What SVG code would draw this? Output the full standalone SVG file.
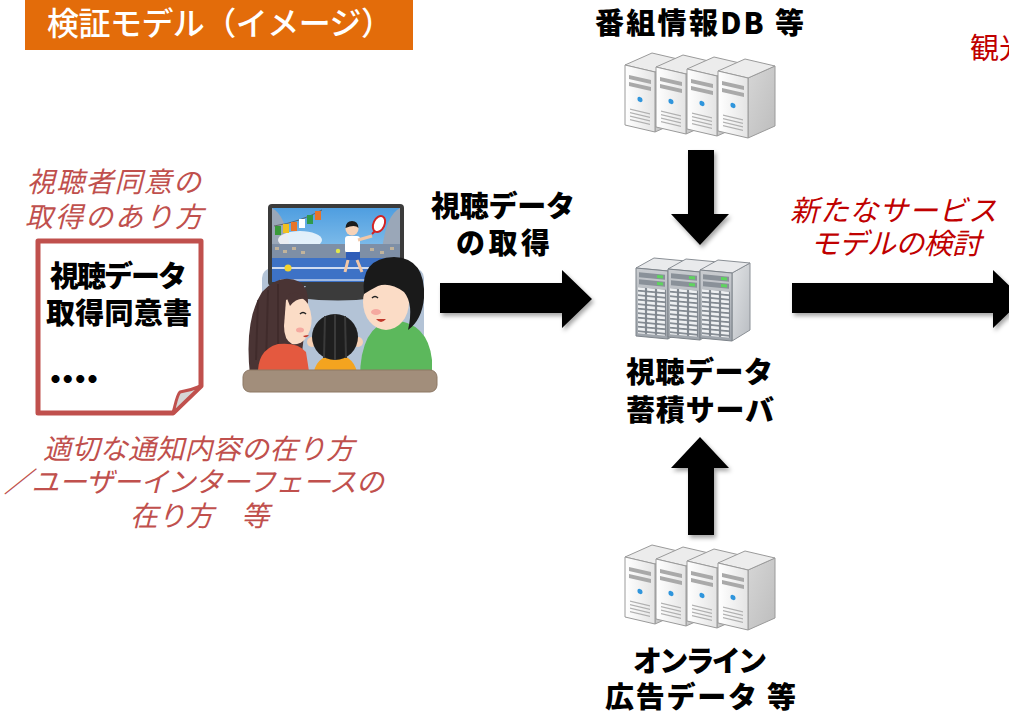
<svg xmlns="http://www.w3.org/2000/svg" width="1009" height="712" viewBox="0 0 1009 712">
  <style>
    .jp { font-family: "Noto Sans CJK JP", "Noto Sans", sans-serif; }
    .lbl { font-family: "Noto Sans CJK JP", sans-serif; font-weight: 900; font-size: 29px; fill: #000; }
    .note { font-family: "Noto Sans CJK JP", sans-serif; font-style: italic; font-weight: 400; font-size: 28px; fill: #C0504D; }
    .idea { font-family: "Noto Sans CJK JP", sans-serif; font-style: italic; font-weight: 400; font-size: 29px; fill: #C00000; }
    .arrow { fill: #000; filter: url(#shadow); }
  </style>
  <defs>
    <filter id="shadow" x="-20%" y="-20%" width="150%" height="150%">
      <feDropShadow dx="2" dy="3" stdDeviation="2" flood-color="#000" flood-opacity="0.35"/>
    </filter>
    <linearGradient id="towerFront" x1="0" y1="0" x2="1" y2="0">
      <stop offset="0" stop-color="#ffffff"/>
      <stop offset="1" stop-color="#e4e4e4"/>
    </linearGradient>
    <linearGradient id="towerSide" x1="0" y1="0" x2="1" y2="1">
      <stop offset="0" stop-color="#d6d6d6"/>
      <stop offset="1" stop-color="#bdbdbd"/>
    </linearGradient>
    <linearGradient id="rackFront" x1="0" y1="0" x2="0" y2="1">
      <stop offset="0" stop-color="#c9ccd0"/>
      <stop offset="1" stop-color="#9da3aa"/>
    </linearGradient>
    <linearGradient id="rackSide" x1="0" y1="0" x2="1" y2="1">
      <stop offset="0" stop-color="#e2e4e6"/>
      <stop offset="1" stop-color="#b9bdc2"/>
    </linearGradient>
    <linearGradient id="sky" x1="0" y1="0" x2="0" y2="1">
      <stop offset="0" stop-color="#4f9ee0"/>
      <stop offset="1" stop-color="#a8d6f2"/>
    </linearGradient>
    <pattern id="cells" width="10" height="4.5" patternUnits="userSpaceOnUse">
      <rect width="10" height="4.5" fill="#7f868e"/>
      <rect x="1" y="0.8" width="8" height="2.8" fill="#eef0f2"/>
    </pattern>

    <!-- one tower server, origin at front-top-left corner -->
    <g id="tower">
      <polygon points="30,7 57,-5 57,55 30,67" fill="url(#towerSide)" stroke="#9a9a9a" stroke-width="1" stroke-linejoin="round"/>
      <polygon points="0,0 27,-12 57,-5 30,7" fill="#ececec" stroke="#9a9a9a" stroke-width="1" stroke-linejoin="round"/>
      <polygon points="0,0 30,7 30,67 0,60" fill="url(#towerFront)" stroke="#9a9a9a" stroke-width="1" stroke-linejoin="round"/>
      <g transform="skewY(13.1)">
        <rect x="4" y="9" width="22" height="4" fill="#a9a9a9"/>
        <rect x="4" y="16" width="22" height="4" fill="#a9a9a9"/>
        <circle cx="15" cy="31" r="2.6" fill="#2f95dc"/>
        <g stroke="#b0b0b0" stroke-width="1.2">
          <line x1="5" y1="43" x2="25" y2="43"/>
          <line x1="5" y1="46.5" x2="25" y2="46.5"/>
          <line x1="5" y1="50" x2="25" y2="50"/>
          <line x1="5" y1="53.5" x2="25" y2="53.5"/>
        </g>
      </g>
    </g>

    <!-- one rack server, origin at front-top-left corner -->
    <g id="rack">
      <polygon points="32,3 50,-7 50,60 32,71" fill="url(#rackSide)" stroke="#8a8f95" stroke-width="1"/>
      <polygon points="0,0 18,-10 50,-7 32,3" fill="#e9eaec" stroke="#8a8f95" stroke-width="1"/>
      <polygon points="0,0 32,3 32,71 0,68" fill="url(#rackFront)" stroke="#7d838a" stroke-width="1"/>
      <g transform="skewY(5.4)">
        <rect x="3" y="4" width="26" height="5" fill="#8a9199"/>
        <rect x="3" y="11" width="26" height="5" fill="#8a9199"/>
        <rect x="21" y="5" width="6" height="3" fill="#5fd35f"/>
        <rect x="21" y="12" width="6" height="3" fill="#5fd35f"/>
        <rect x="2" y="19" width="28" height="46" fill="url(#cells)"/>
      </g>
    </g>
  </defs>

  <rect width="1009" height="712" fill="#ffffff"/>

  <!-- heading -->
  <g id="title">
    <rect x="25" y="0" width="388" height="50" fill="#E36C0A"/>
    <text class="jp" x="47" y="35" font-size="32" font-weight="500" fill="#ffffff" textLength="346">検証モデル（イメージ）</text>
  </g>

  <g id="tourism-label">
    <text class="jp" x="970" y="59" font-size="29" fill="#C00000">観光</text>
  </g>

  <!-- consent notes and document -->
  <g id="consent-note">
    <text class="note" x="27" y="192" textLength="174">視聴者同意の</text>
    <text class="note" x="25" y="227" textLength="178">取得のあり方</text>
  </g>

  <g id="consent-document">
    <path d="M38,241 H201 V386 L173,413 H38 Z" fill="#ffffff" stroke="#C0504D" stroke-width="5" stroke-linejoin="round"/>
    <path d="M173,413 C176,402 177,395 180,392 C186,391 194,389 201,386 Z" fill="#d6d6d6" stroke="#C0504D" stroke-width="3" stroke-linejoin="round"/>
    <text class="lbl" x="50" y="287" font-size="28" textLength="137">視聴データ</text>
    <text class="lbl" x="46" y="324" textLength="146">取得同意書</text>
    <text class="lbl" x="41" y="390" font-size="25" textLength="66">・・・・</text>
  </g>

  <g id="ui-note">
    <text class="note" x="43" y="459" textLength="311">適切な通知内容の在り方</text>
    <text class="note" x="4" y="492" textLength="380">／ユーザーインターフェースの</text>
    <text class="note" x="130" y="526" textLength="139">在り方　等</text>
  </g>

  <!-- family watching TV -->
  <g id="viewers">
    <rect x="262" y="268" width="162" height="106" rx="10" fill="#b3c3d6"/>
    <!-- television -->
    <rect x="268" y="204" width="136" height="82" rx="4" fill="#3b3b3b"/>
    <rect x="272" y="208" width="128" height="74" fill="url(#sky)"/>
    <path d="M272,208 Q286,215 290,250 L272,250 Z" fill="#9aa7b8"/>
    <path d="M400,208 Q386,215 382,250 L400,250 Z" fill="#9aa7b8"/>
    <ellipse cx="300" cy="240" rx="22" ry="9" fill="#ffffff" opacity="0.8"/>
    <rect x="272" y="244" width="128" height="14" fill="#7e8fa6"/>
    <g fill="#c9b79a" opacity="0.9">
      <rect x="275" y="247" width="4" height="3"/><rect x="283" y="250" width="4" height="3"/>
      <rect x="292" y="247" width="4" height="3"/><rect x="301" y="251" width="4" height="3"/>
      <rect x="370" y="248" width="4" height="3"/><rect x="380" y="251" width="4" height="3"/>
      <rect x="390" y="247" width="4" height="3"/>
    </g>
    <rect x="272" y="258" width="128" height="24" fill="#3d72c6"/>
    <line x1="272" y1="268" x2="400" y2="268" stroke="#ffffff" stroke-width="1.5"/>
    <line x1="280" y1="280" x2="392" y2="280" stroke="#ffffff" stroke-width="1"/>
    <circle cx="288" cy="268" r="3.5" fill="#f2d22e"/>
    <circle cx="338" cy="251" r="2.2" fill="#e2e84a"/>
    <!-- bunting -->
    <path d="M274,226 Q300,222 322,210" fill="none" stroke="#555" stroke-width="0.8"/>
    <rect x="275" y="226" width="6" height="9" fill="#3a9a3a"/>
    <rect x="283" y="224" width="6" height="9" fill="#f0c020"/>
    <rect x="291" y="222" width="6" height="9" fill="#e8742a"/>
    <rect x="299" y="219" width="6" height="9" fill="#ffffff"/>
    <rect x="307" y="215" width="6" height="9" fill="#2f9a4a"/>
    <rect x="315" y="211" width="6" height="9" fill="#e8742a"/>
    <!-- tennis player -->
    <rect x="345" y="236" width="15" height="17" rx="3" fill="#ffffff"/>
    <rect x="346" y="252" width="14" height="8" fill="#2e5db8"/>
    <path d="M348,260 L345,272 M357,260 L362,272" stroke="#f2c7a6" stroke-width="3"/>
    <path d="M358,240 L372,236" stroke="#f2c7a6" stroke-width="3"/>
    <circle cx="352" cy="229" r="6.5" fill="#f7d3b8"/>
    <path d="M345.5,228 Q346,221 352,221 Q358,221 358.5,228 Q355,224 345.5,228 Z" fill="#1c1c1c"/>
    <ellipse cx="379" cy="224" rx="5.5" ry="8.5" transform="rotate(25 379 224)" fill="#ffffff" stroke="#d32323" stroke-width="2"/>
    <line x1="372" y1="234" x2="375" y2="231" stroke="#d32323" stroke-width="2"/>
    <!-- stand -->
    <path d="M306,286 H364 L374,298 Q340,303 298,298 Z" fill="#3b3b3b"/>
    <!-- mother -->
    <path d="M250,375 Q244,320 262,292 Q280,272 300,282 Q312,290 306,318 L300,370 Z" fill="#4a3434"/>
    <g stroke="#3a2626" stroke-width="2" opacity="0.6">
      <line x1="258" y1="300" x2="256" y2="360"/>
      <line x1="268" y1="290" x2="266" y2="365"/>
      <line x1="278" y1="284" x2="278" y2="365"/>
    </g>
    <path d="M286,300 Q300,292 308,304 Q314,318 310,330 Q304,346 292,344 Q284,340 284,326 Z" fill="#fbdcc6"/>
    <path d="M286,296 Q298,288 308,300 Q298,296 290,306 Z" fill="#4a3434"/>
    <ellipse cx="300" cy="330" rx="4" ry="2.5" fill="#f5a9a0"/>
    <path d="M300,314 q3,-3 6,0" fill="none" stroke="#222" stroke-width="1.5"/>
    <path d="M303,336 q3,3 6,-1 q-3,0 -6,1 z" fill="#c0392b"/>
    <path d="M258,378 Q256,350 278,344 Q298,342 306,352 L310,378 Z" fill="#e4593f"/>
    <!-- child -->
    <path d="M313,378 Q314,356 336,354 Q356,356 358,378 Z" fill="#f4a41f"/>
    <circle cx="312" cy="342" r="5" fill="#f7d0b4"/>
    <circle cx="358" cy="342" r="5" fill="#f7d0b4"/>
    <circle cx="335" cy="337" r="23" fill="#1e1e1e"/>
    <g stroke="#3a3a3a" stroke-width="2">
      <line x1="325" y1="316" x2="324" y2="358"/>
      <line x1="335" y1="314" x2="335" y2="360"/>
      <line x1="345" y1="316" x2="346" y2="358"/>
    </g>
    <!-- father -->
    <path d="M360,378 Q360,326 392,320 Q428,322 432,360 L432,378 Z" fill="#5cb85c"/>
    <ellipse cx="386" cy="302" rx="23" ry="28" fill="#fbdcc6"/>
    <path d="M364,294 Q360,258 394,257 Q426,258 424,298 Q422,320 408,330 Q414,304 404,292 Q390,282 378,286 Q370,290 364,294 Z" fill="#1a1a1a"/>
    <path d="M372,298 q3,-3 6,0" fill="none" stroke="#222" stroke-width="1.5"/>
    <ellipse cx="376" cy="312" rx="5" ry="3" fill="#f5a9a0"/>
    <path d="M376,319 q5,6 10,0 z" fill="#c0392b"/>
    <!-- sofa -->
    <rect x="243" y="370" width="194" height="22" rx="7" fill="#a28e7b" stroke="#8d7865" stroke-width="1"/>
  </g>

  <!-- server farm -->
  <g id="program-db-servers">
    <text class="lbl" x="595" y="34" textLength="209">番組情報DB 等</text>
    <use href="#tower" x="625" y="65"/>
    <use href="#tower" x="656" y="67"/>
    <use href="#tower" x="687" y="69"/>
    <use href="#tower" x="718" y="71"/>
  </g>

  <g id="storage-servers">
    <use href="#rack" x="636" y="268"/>
    <use href="#rack" x="668" y="269"/>
    <use href="#rack" x="700" y="270"/>
    <text class="lbl" x="626" y="383" textLength="147">視聴データ</text>
    <text class="lbl" x="626" y="421" textLength="148">蓄積サーバ</text>
  </g>

  <g id="ad-data-servers">
    <use href="#tower" x="625" y="557"/>
    <use href="#tower" x="656" y="559"/>
    <use href="#tower" x="687" y="561"/>
    <use href="#tower" x="718" y="563"/>
    <text class="lbl" x="633" y="672" textLength="134">オンライン</text>
    <text class="lbl" x="605" y="708" textLength="191">広告データ 等</text>
  </g>

  <g id="new-service-note">
    <text class="idea" x="790" y="221" textLength="207">新たなサービス</text>
    <text class="idea" x="810" y="254" textLength="171">モデルの検討</text>
  </g>

  <!-- connectors -->
  <g id="connectors">
    <text class="lbl" x="431" y="217" textLength="144">視聴データ</text>
    <text class="lbl" x="456" y="254" textLength="94">の取得</text>
    <path class="arrow" d="M440,283 H562 V270 L592,299 L562,328 V313 H440 Z"/>
    <path class="arrow" d="M792,283 H993 V270 L1023,299 L993,328 V313 H792 Z"/>
    <path class="arrow" d="M688,150 H714 V214 H729 L700,245 L671,214 H688 Z"/>
    <path class="arrow" d="M700,437 L729,468 H714 V535 H688 V468 H671 Z"/>
  </g>
</svg>
